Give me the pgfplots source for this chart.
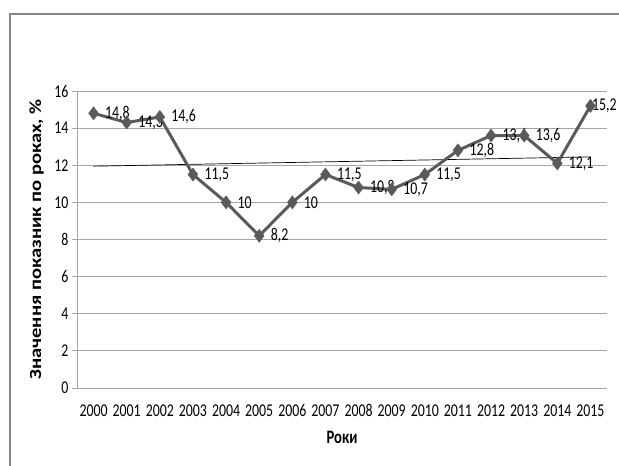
\documentclass[border=0pt]{standalone}
\usepackage{fontspec}
\setmainfont{Carlito}[FakeStretch=0.77]
\newfontfamily\ylfont{Carlito}[FakeStretch=1.21]
\usepackage{pgfplots}
\pgfplotsset{compat=1.18}
\definecolor{linec}{HTML}{5A5A5A}
\definecolor{gridc}{HTML}{A6A6A6}
\begin{document}
\begin{tikzpicture}
\path[use as bounding box] (0,0) rectangle (619pt,466pt);
\draw[gridc!80!black, line width=1.2pt] (10pt,0) -- (10pt,452pt) -- (619pt,452pt);
\begin{axis}[
  at={(77pt,78pt)}, anchor=south west,
  scale only axis, width=530pt, height=297pt,
  xmin=-0.5, xmax=15.5, ymin=0, ymax=16,
  ytick={0,2,...,16},
  xtick={0,...,15},
  xticklabels={2000,2001,2002,2003,2004,2005,2006,2007,2008,2009,2010,2011,2012,2013,2014,2015},
  ymajorgrids, grid style={gridc, line width=0.8pt},
  axis x line=bottom, axis y line=left,
  axis line style={-, gridc, line width=0.8pt},
  xtick style={draw=none},
  ytick style={gridc, line width=0.8pt},
  tick align=outside, major tick length=5pt,
  tick label style={font=\fontsize{18}{20}\selectfont},
  xticklabel style={yshift=-8pt},
  /pgf/number format/assume math mode=true,
  ylabel={\ylfont\bfseries Значення показник по роках, \%},
  xlabel={\bfseries Роки},
  ylabel style={font=\fontsize{17}{19}\selectfont\bfseries, at={(axis description cs:-0.076,0.5)}, anchor=center},
  xlabel style={font=\fontsize{19}{21}\selectfont\bfseries, at={(axis description cs:0.5,-0.165)}, anchor=center},
  clip=false,
]
\addplot[black, line width=0.7pt, forget plot] coordinates {(0,11.95) (15,12.45)};
\addplot[linec, line width=3pt, mark=diamond*, mark size=6.5pt,
  mark options={fill=linec, draw=linec, line width=0.5pt},
  visualization depends on={value \coordindex\as\myidx},
  nodes near coords,
  nodes near coords style={font=\fontsize{18}{20}\selectfont, text=black, anchor=west,
    xshift={ifthenelse(\myidx==15,-2,8)*1pt},
    /pgf/number format/.cd, use comma, fixed, precision=1, assume math mode=true},
] coordinates {
(0,14.8) (1,14.3) (2,14.6) (3,11.5) (4,10) (5,8.2) (6,10) (7,11.5)
(8,10.8) (9,10.7) (10,11.5) (11,12.8) (12,13.6) (13,13.6) (14,12.1) (15,15.2)
};
\end{axis}
\end{tikzpicture}
\end{document}
